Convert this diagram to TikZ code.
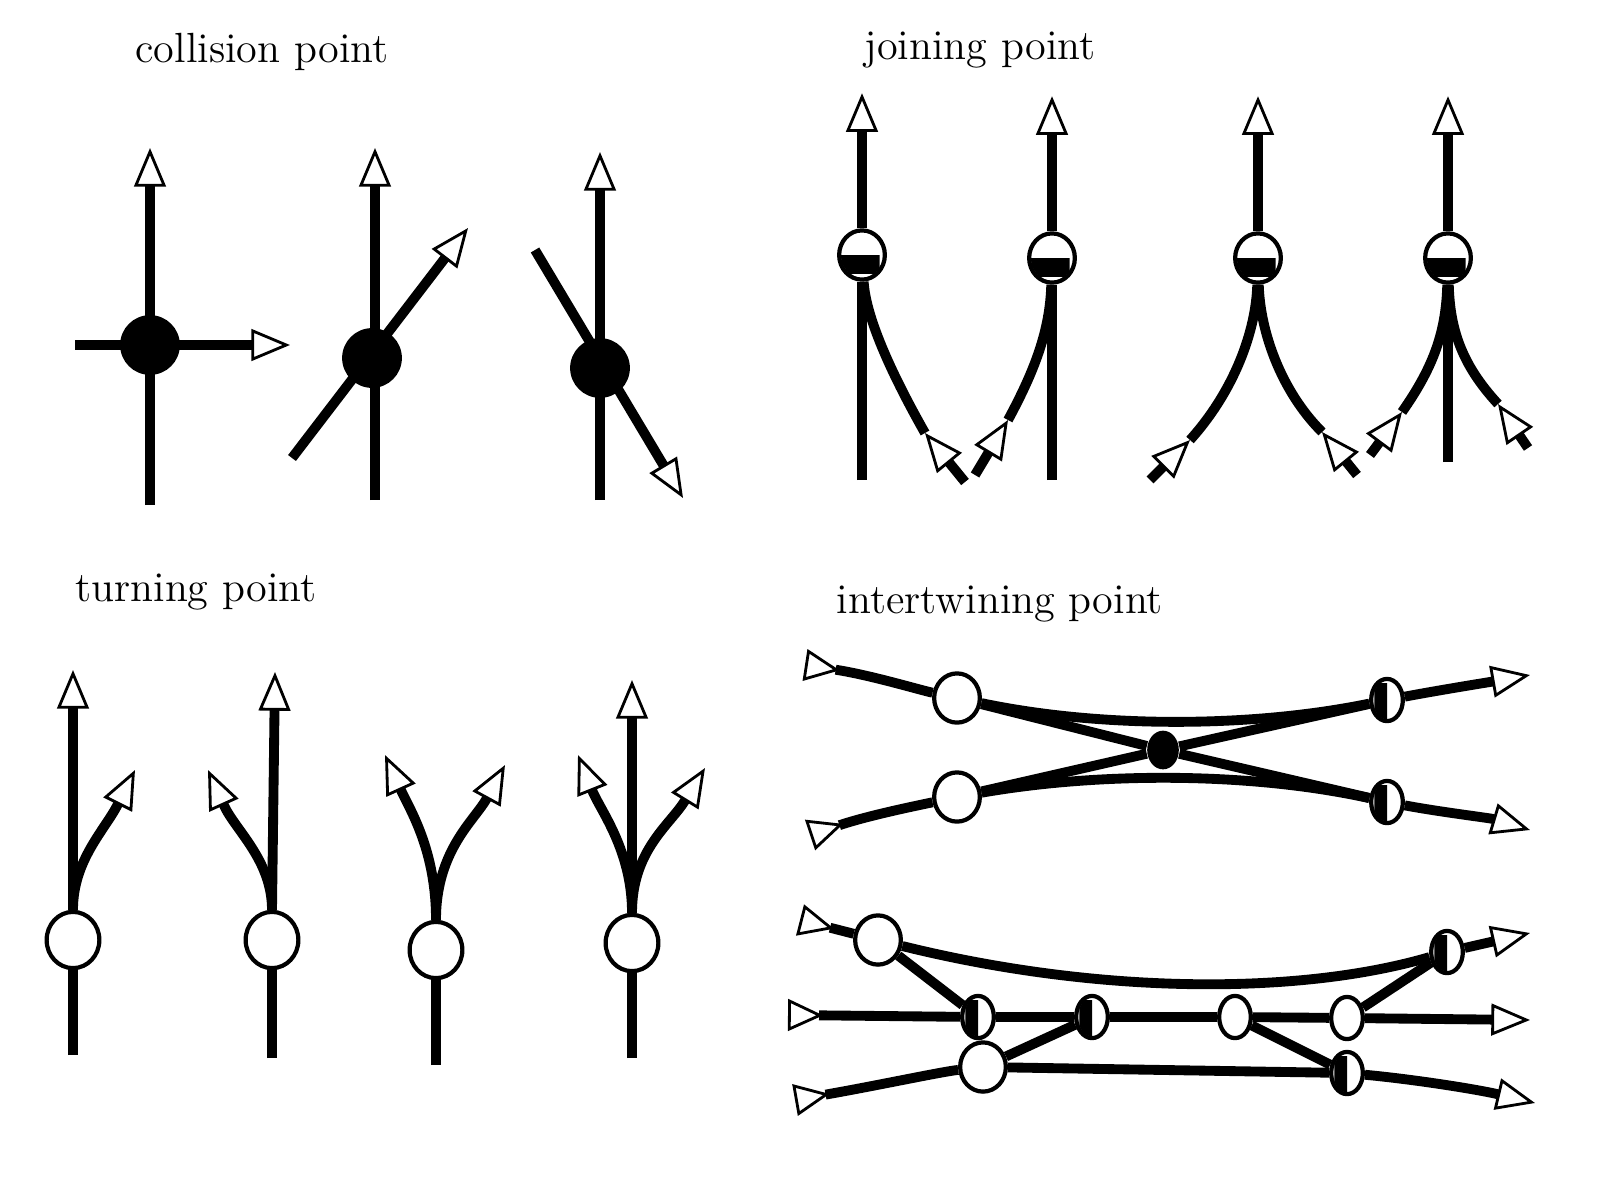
\documentclass[tikz,border=0pt]{standalone}
\usetikzlibrary{arrows.meta,shapes.geometric,backgrounds}
\tikzset{
  flow/.style={line width=2.8pt, line cap=butt},
  tip/.style={flow, -{Triangle[fill=white, line width=0.8pt, length=11pt, width=9pt]}},
  tail/.style={flow, {Triangle[reversed, fill=white, line width=0.8pt, length=10pt, width=9pt]}-},
  fullpt/.style={circle, fill=black, inner sep=0pt, minimum size=17pt},
  openpt/.style={ellipse, draw, line width=1.2pt, fill=white, inner sep=0pt, minimum width=13pt, minimum height=14pt},
  smallpt/.style={openpt, minimum width=9pt, minimum height=12pt},
  dotx/.style={ellipse, fill=black, inner sep=0pt, minimum width=9pt, minimum height=11pt},
  label/.style={font=\fontsize{12}{14}\selectfont}
}
% half filled points
\newcommand\filldown[1]{\begin{scope}\clip (#1.west) rectangle (#1.south east);
  \fill (#1.center) ellipse [x radius=6pt, y radius=6.5pt];\end{scope}}
\newcommand\fillleft[1]{\begin{scope}\clip (#1.north west) rectangle (#1.south);
  \fill (#1.center) ellipse [x radius=4pt, y radius=5.5pt];\end{scope}}
\begin{document}
\begin{tikzpicture}[x=0.01cm, y=-0.01cm]
\useasboundingbox (0,0) rectangle (1618,1203);

% Titles
\node[label] (tcol) at (262,52) {collision point};
\node[label] (tjoin) at (980,50) {joining point};
\node[label] (tturn) at (196,592) {turning point};
\node[label] (tint) at (1000,604) {intertwining point};

% Collision points
\node[fullpt] (c1) at (150,345) {};
\node[fullpt] (c2) at (372,358) {};
\node[fullpt] (c3) at (600,368) {};
\begin{pgfonlayer}{background}
\draw[tip] (150,505) -- (150,148);
\draw[tip] (75,345) -- (290,345);
\draw[tip] (375,500) -- (375,148);
\draw[tip] (292,458) -- (468,228);
\draw[tip] (600,500) -- (600,152);
\draw[tip] (535,250) -- (683,498);
\end{pgfonlayer}

% Joining points
\node[openpt] (j1) at (862,255) {};
\node[openpt] (j2) at (1052,258) {};
\node[openpt] (j3) at (1258,258) {};
\node[openpt] (j4) at (1448,258) {};
\foreach \n in {1,...,4}{
  \filldown{j\n}
  \coordinate (j\n top) at ([yshift=1.35cm]j\n.north);
  \draw[tip] (j\n.north) -- (j\n top);
}
\coordinate (j1a) at (862,480);
\coordinate (j1b) at (965,482);  \coordinate (j1m) at (925,433);
\coordinate (j2a) at (1052,480);
\coordinate (j2b) at (975,475);  \coordinate (j2m) at (1008,420);
\coordinate (j3b) at (1150,480); \coordinate (j3m) at (1190,440);
\coordinate (j3c) at (1357,475); \coordinate (j3n) at (1322,432);
\coordinate (j4a) at (1448,462);
\coordinate (j4b) at (1370,455); \coordinate (j4m) at (1402,412);
\coordinate (j4c) at (1528,448); \coordinate (j4n) at (1498,404);
\begin{pgfonlayer}{background}
\draw[flow] (j1a) -- (j1);
\draw[tip] (j1b) -- (j1m);
\draw[flow] (j1m) .. controls (895,380) and (866,320) .. (j1);
\draw[flow] (j2a) -- (j2);
\draw[tip] (j2b) -- (j2m);
\draw[flow] (j2m) .. controls (1035,370) and (1050,330) .. (j2);
\draw[tip] (j3b) -- (j3m);
\draw[flow] (j3m) .. controls (1235,390) and (1256,330) .. (j3);
\draw[tip] (j3c) -- (j3n);
\draw[flow] (j3n) .. controls (1280,390) and (1260,330) .. (j3);
\draw[flow] (j4a) -- (j4);
\draw[tip] (j4b) -- (j4m);
\draw[flow] (j4m) .. controls (1435,365) and (1446,330) .. (j4);
\draw[tip] (j4c) -- (j4n);
\draw[flow] (j4n) .. controls (1462,365) and (1450,330) .. (j4);
\end{pgfonlayer}

% Turning points
\node[openpt, minimum width=15pt, minimum height=16pt] (t1) at (73,940) {};
\node[openpt, minimum width=15pt, minimum height=16pt] (t2) at (272,940) {};
\node[openpt, minimum width=15pt, minimum height=16pt] (t3) at (436,950) {};
\node[openpt, minimum width=15pt, minimum height=16pt] (t4) at (632,943) {};
\begin{pgfonlayer}{background}
\draw[flow] (73,1055) -- (t1);
\draw[flow] (272,1058) -- (t2);
\draw[flow] (436,1065) -- (t3);
\draw[flow] (632,1058) -- (t4);
\draw[tip] (t1.north) -- (73,670);
\draw[tip] (t1.north) .. controls (73,860) and (105,830) .. (135,770);
\draw[tip] (t2.north) -- (275,672);
\draw[tip] (t2.north) .. controls (272,860) and (235,830) .. (208,770);
\draw[tip] (t3.north) .. controls (436,850) and (410,810) .. (385,755);
\draw[tip] (t3.north) .. controls (436,850) and (475,820) .. (505,765);
\draw[tip] (t4.north) -- (632,680);
\draw[tip] (t4.north) .. controls (632,850) and (600,810) .. (578,755);
\draw[tip] (t4.north) .. controls (632,850) and (670,825) .. (705,768);
\end{pgfonlayer}

% Intertwining point, upper
\node[openpt] (u1) at (957,698) {};
\node[openpt] (u2) at (957,797) {};
\node[dotx] (ux) at (1163,750) {};
\node[smallpt] (u3) at (1387,700) {};
\node[smallpt] (u4) at (1387,802) {};
\fillleft{u3} \fillleft{u4}
\coordinate (u1s) at (805,665);
\coordinate (u2s) at (810,835);
\coordinate (u3e) at (1530,675);
\coordinate (u4e) at (1530,830);
\begin{pgfonlayer}{background}
\draw[tail] (u1s) .. controls (870,675) and (920,690) .. (u1);
\draw[tail] (u2s) .. controls (870,815) and (920,805) .. (u2);
\draw[flow] (u1) -- (ux) -- (u4);
\draw[flow] (u2) -- (ux) -- (u3);
\draw[tip] (u3) .. controls (1440,690) and (1490,682) .. (u3e);
\draw[tip] (u4) .. controls (1440,812) and (1490,818) .. (u4e);
\draw[flow] (u1) .. controls (1100,728) and (1250,728) .. (u3);
\draw[flow] (u2) .. controls (1100,772) and (1250,772) .. (u4);
\end{pgfonlayer}

% Intertwining point, lower
\node[openpt] (l1) at (878,940) {};
\node[smallpt] (l2) at (1447,952) {};
\node[smallpt] (l3) at (978,1017) {};
\node[smallpt] (l4) at (1092,1017) {};
\node[smallpt] (l5) at (1235,1017) {};
\node[smallpt] (l6) at (1347,1018) {};
\node[openpt] (l7) at (983,1067) {};
\node[smallpt] (l8) at (1347,1073) {};
\fillleft{l2} \fillleft{l3} \fillleft{l4} \fillleft{l8}
\coordinate (l1s) at (800,920);
\coordinate (l2e) at (1530,933);
\coordinate (l3s) at (788,1015);
\coordinate (l6e) at (1530,1020);
\coordinate (l7s) at (795,1100);
\coordinate (l8e) at (1535,1103);
\begin{pgfonlayer}{background}
\draw[tail] (l1s) -- (l1);
\draw[flow] (l1) .. controls (1100,995) and (1300,995) .. (l2);
\draw[tip] (l2) -- (l2e);
\draw[tail] (l3s) -- (l3);
\draw[flow] (l3) -- (l4) -- (l5) -- (l6);
\draw[tip] (l6) -- (l6e);
\draw[tail] (l7s) .. controls (880,1085) and (940,1072) .. (l7);
\draw[flow] (l7) -- (l8);
\draw[tip] (l8) .. controls (1420,1080) and (1480,1090) .. (l8e);
\draw[flow] (l1) -- (l3);
\draw[flow] (l4) -- (l7);
\draw[flow] (l5) -- (l8);
\draw[flow] (l6) -- (l2);
\end{pgfonlayer}
\end{tikzpicture}
\end{document}
